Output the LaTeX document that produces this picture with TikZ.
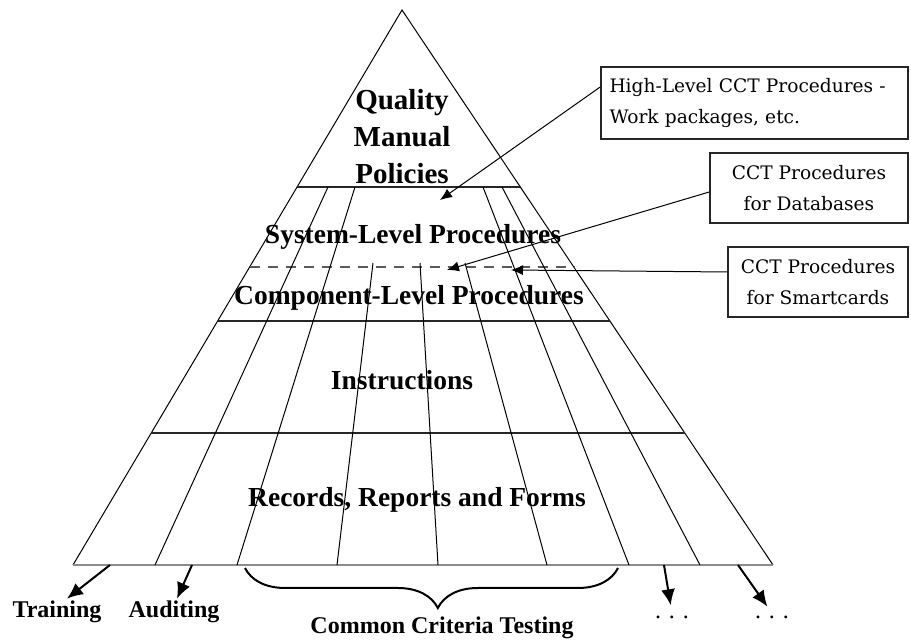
\documentclass[tikz,border=0pt]{standalone}
\usepackage{fontspec}
\setmainfont{Liberation Serif}
\newfontfamily\boxfont{DejaVu Serif}
\usetikzlibrary{
	positioning,
	arrows.meta,
	decorations.pathreplacing,
	calc
}

\begin{document}
\begin{tikzpicture}[x=0.5pt,y=-0.5pt,
	level/.style={font=\bfseries\fontsize{13.75}{18.5}\selectfont,align=center,inner sep=0pt},
	callout/.style={draw=black!85,line width=0.8pt,font=\boxfont\fontsize{9.3}{15.5}\selectfont,inner sep=0pt,minimum height=35pt},
	pointer/.style={-{Latex[length=6pt,width=5pt]},line width=0.5pt},
	outcome/.style={font=\bfseries\fontsize{12}{14}\selectfont,inner sep=1pt},
	branch/.style={-{Latex[length=8pt,width=7pt]},line width=1pt}]

	\useasboundingbox (0,0) rectangle (911,641);

	\coordinate (top) at (402,10);
	\coordinate (left) at (73,565);
	\coordinate (right) at (773,565);

	\draw[line width=0.5pt] (left) -- (top) -- (right);
	\draw[line width=1.3pt,black!45] (left) -- (right);
	\draw[line width=0.8pt,black!85] ($(top)!0.319!(left)$) -- ($(top)!0.319!(right)$);
	\draw[line width=0.6pt,black!65,dash pattern=on 5pt off 4pt] ($(top)!0.463!(left)$) -- ($(top)!0.463!(right)$);
	\draw[line width=0.8pt,black!85] ($(top)!0.56!(left)$) -- ($(top)!0.56!(right)$);
	\draw[line width=0.8pt,black!85] ($(top)!0.762!(left)$) -- ($(top)!0.762!(right)$);

	\foreach \tx/\ty/\bx in {328/187/155, 355/187/237, 373/263/337, 420/263/438, 465/263/547, 483/187/629, 502/187/700}
		\draw[line width=0.5pt] (\tx,\ty) -- (\bx,565);

	\node[level,font=\bfseries\fontsize{14.5}{18.5}\selectfont] (policies) at (402,137) {Quality\\Manual\\Policies};
	\node[level] (system) at (413,237) {System-Level Procedures};
	\node[level] (component) at (409,298) {Component-Level Procedures};
	\node[level] (instr) at (402,380) {Instructions};
	\node[level] (records) at (417,500) {Records, Reports and Forms};

	\node[callout,inner xsep=4.25pt,text width=145pt,align=left,minimum height=36pt] (highlevel) at (754.5,103) {High-Level CCT Procedures -\\Work packages, etc.};
	\node[callout,minimum width=99pt,align=center] (databases) at (809,188) {CCT Procedures\\for Databases};
	\node[callout,minimum width=90pt,align=center] (smartcards) at (818,282) {CCT Procedures\\for Smartcards};

	\coordinate (hl_tip) at (440,200);
	\coordinate (db_tip) at (447,270);
	\coordinate (sc_tip) at (511,270);

	\draw[pointer] ([yshift=8pt]highlevel.west) -- (hl_tip);
	\draw[pointer] ([yshift=-2pt]databases.west) -- (db_tip);
	\draw[pointer] ([yshift=5pt]smartcards.west) -- (sc_tip);

	\node[outcome] (training) at (57,612) {Training};
	\node[outcome] (auditing) at (174,612) {Auditing};
	\node[outcome] (cct) at (442,628) {Common Criteria Testing};
	\node[outcome,font=\fontsize{12}{14}\selectfont] (more_a) at (672,617) {. . .};
	\node[outcome,font=\fontsize{12}{14}\selectfont] (more_b) at (772,617) {. . .};

	\coordinate (base_tr) at (110,565);
	\coordinate (base_au) at (192,565);
	\coordinate (base_ma) at (664,565);
	\coordinate (base_mb) at (738,565);
	\coordinate (cc_left) at (245,568);
	\coordinate (cc_right) at (618,568);

	\draw[branch] (base_tr) -- ([xshift=5pt]training.north);
	\draw[branch] (base_au) -- ([xshift=1.5pt]auditing.north);
	\draw[branch,shorten >=4pt] (base_ma) -- (more_a.north);
	\draw[branch,shorten >=4pt] (base_mb) -- (more_b.north);

	\draw[decorate,decoration={brace,mirror,amplitude=20pt,aspect=0.517},line width=1pt] (cc_left) -- (cc_right);

\end{tikzpicture}
\end{document}
